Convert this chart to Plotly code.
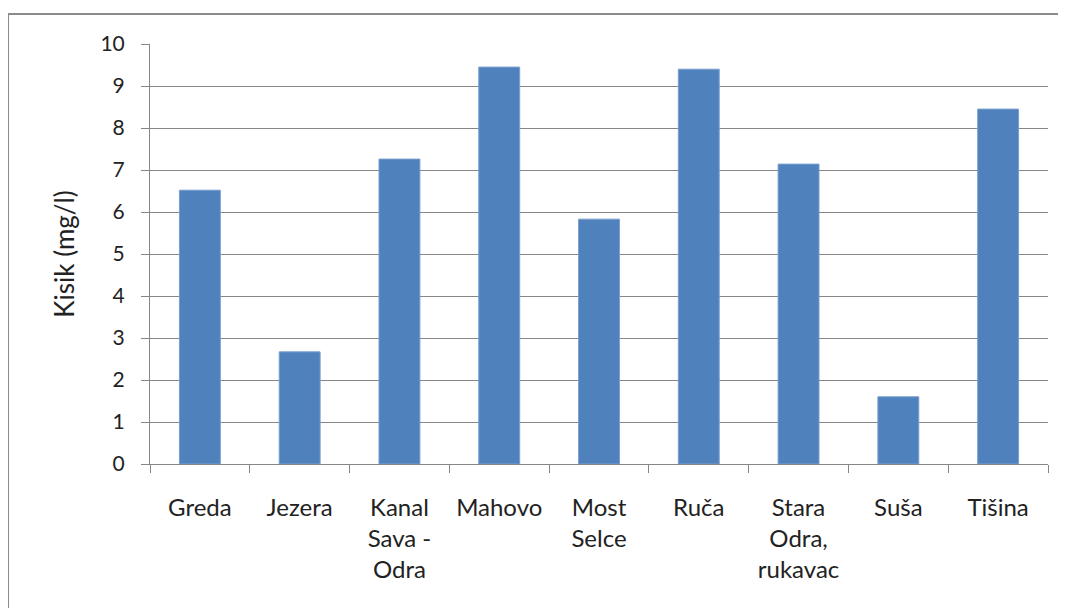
import plotly.graph_objects as go

categories = ["Greda", "Jezera", "Kanal<br>Sava -<br>Odra", "Mahovo", "Most<br>Selce",
              "Ruča", "Stara<br>Odra,<br>rukavac", "Suša", "Tišina"]
kisik = [6.52, 2.67, 7.26, 9.45, 5.83, 9.40, 7.14, 1.60, 8.45]
y_ticks = list(range(0, 11))

_BAR = "#4f81bd"
_AXIS = "#868686"
_FAMILY = "Lato, Open Sans, sans-serif"
_COLOR = "#222222"

fig = go.Figure(go.Bar(
    x=categories, y=kisik, marker_color=_BAR,
    marker_line=dict(color="#7a9fcf", width=1), showlegend=False,
))

fig.update_layout(
    width=1066, height=608,
    margin=dict(l=142, r=26, t=36, b=152),
    paper_bgcolor="white", plot_bgcolor="white",
    bargap=0.59, font=dict(family=_FAMILY, size=22, color=_COLOR),
    # Excel 风格的外框（左、上可见）
    shapes=[dict(type="rect", xref="paper", yref="paper",
                 x0=-0.1581, x1=1.05, y0=-0.40, y1=1.0714,
                 line=dict(color="#8c8c8c", width=2), layer="below")],
)
fig.update_xaxes(
    type="category", showline=True, linecolor=_AXIS, linewidth=1,
    ticks="outside", tickson="boundaries", ticklen=8, tickcolor=_AXIS,
    showgrid=False, ticklabelstandoff=22, tickangle=0,
    tickfont=dict(family=_FAMILY, size=24, color=_COLOR),
)
fig.update_yaxes(
    range=[0, 10], tickvals=y_ticks, showline=True, linecolor=_AXIS, linewidth=1,
    ticks="outside", ticklen=8, tickcolor=_AXIS,
    showgrid=True, gridcolor=_AXIS, gridwidth=1, zeroline=False,
    ticklabelstandoff=12,
    tickfont=dict(family=_FAMILY, size=21, color=_COLOR),
    title=dict(text="Kisik (mg/l)", standoff=18,
               font=dict(family=_FAMILY, size=26, color=_COLOR)),
)

fig.write_html("out.html")
